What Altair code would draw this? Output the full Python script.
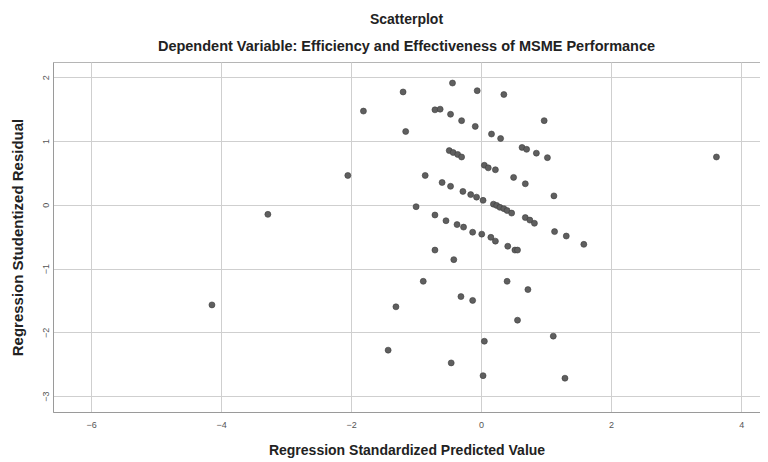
import altair as alt
import pandas as pd

x_pred = [-4.14, -3.28, -2.05, -1.81, -1.20, -1.16, -0.44, -0.06, 0.35, -0.71,
          -0.63, -0.47, -0.30, -0.09, 0.16, 0.30, 0.97, 0.63, 0.70, 0.85,
          1.02, -0.49, -0.43, -0.36, -0.30, 0.05, 0.11, 0.22, 0.50, 0.68,
          -0.86, -0.60, -0.47, -0.28, -0.16, -0.07, 0.03, 0.19, 0.24, 0.29,
          0.35, 0.40, 0.47, 0.68, 0.75, 0.82, 1.12, -1.00, -0.71, -0.54,
          -0.37, -0.27, -0.13, 0.01, 0.15, 0.22, 0.41, 0.52, 0.56, 1.13,
          1.31, 1.58, -0.71, -0.42, -0.89, 0.40, 0.72, -0.31, -0.13, -1.31,
          0.56, 1.11, 0.05, -1.43, -0.46, 0.03, 1.29, 3.62]
y_resid = [-1.57, -0.15, 0.46, 1.47, 1.77, 1.15, 1.91, 1.79, 1.73, 1.49,
           1.50, 1.42, 1.32, 1.23, 1.11, 1.04, 1.32, 0.90, 0.87, 0.81,
           0.74, 0.85, 0.82, 0.79, 0.75, 0.62, 0.58, 0.55, 0.43, 0.33,
           0.46, 0.35, 0.29, 0.21, 0.16, 0.12, 0.07, 0.01, -0.01, -0.04,
           -0.06, -0.09, -0.13, -0.20, -0.24, -0.29, 0.14, -0.03, -0.16, -0.25,
           -0.31, -0.35, -0.43, -0.46, -0.51, -0.57, -0.65, -0.71, -0.71, -0.42,
           -0.49, -0.62, -0.71, -0.86, -1.20, -1.20, -1.33, -1.44, -1.50, -1.60,
           -1.81, -2.06, -2.14, -2.28, -2.48, -2.68, -2.72, 0.75]

x_ticks = [-6, -4, -2, 0, 2, 4]
y_ticks = [-3, -2, -1, 0, 1, 2]

df = pd.DataFrame({"pred": x_pred, "resid": y_resid})

FONT = "Liberation Sans"

chart = alt.Chart(df).mark_circle(
    size=36, color="#5f5f5f", opacity=1, stroke="#3c3c3c", strokeWidth=0.6
).encode(
    x=alt.X("pred:Q",
            scale=alt.Scale(domain=[-6.585, 4.29], nice=False, zero=False),
            axis=alt.Axis(title="Regression Standardized Predicted Value",
                          values=x_ticks, format="d", ticks=False,
                          labelPadding=8, titlePadding=14,
                          labelFontSize=9, labelColor="#555555",
                          titleFontSize=14, titleFontWeight="bold",
                          titleColor="#222222",
                          gridColor="#cfcfcf", domainColor="#9a9a9a")),
    y=alt.Y("resid:Q",
            scale=alt.Scale(domain=[-3.25, 2.24], nice=False, zero=False),
            axis=alt.Axis(title="Regression Studentized Residual",
                          values=y_ticks, format="d", ticks=False,
                          labelAngle=270, labelAlign="center",
                          labelBaseline="bottom", labelPadding=3,
                          titlePadding=16,
                          labelFontSize=9, labelColor="#555555",
                          titleFontSize=15, titleFontWeight="bold",
                          titleColor="#222222",
                          gridColor="#cfcfcf", domainColor="#9a9a9a")),
).properties(
    width=707,
    height=350,
    title=alt.TitleParams(
        text="Scatterplot",
        subtitle="Dependent Variable: Efficiency and Effectiveness of MSME Performance",
        anchor="middle", fontSize=14, fontWeight="bold", color="#222222",
        subtitleFontSize=14.5, subtitleFontWeight="bold", subtitleColor="#222222",
        subtitlePadding=13, offset=9, font=FONT, subtitleFont=FONT),
    autosize=alt.AutoSizeParams(type="none"),
    padding={"left": 45, "top": 54, "right": 0, "bottom": 50},
).configure(
    font=FONT,
).configure_view(
    stroke="#b5b5b5", strokeWidth=1
).configure_axis(
    labelFont=FONT, titleFont=FONT
)

chart.save("out.html", embed_options={"renderer": "svg", "actions": False})
